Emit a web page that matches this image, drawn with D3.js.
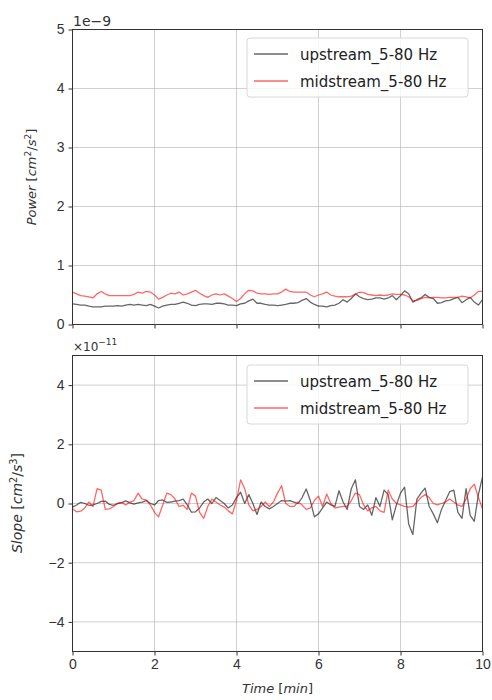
<!DOCTYPE html>
<html>
<head>
<meta charset="utf-8">
<script src="https://cdn.jsdelivr.net/npm/d3@7"></script>
<style>
  body { margin: 0; background: #fff; }
  svg { font-family: "DejaVu Sans", sans-serif; }
  .grid line { stroke: #b0b0b0; stroke-opacity: 0.6; }
  .axis path, .axis line { stroke: #333; }
  .axis text { fill: #333; font-size: 14px; }
</style>
</head>
<body>
<svg id="chart" width="492" height="700"></svg>
<script>
// sample spacing in minutes, samples start at t = 0
var dt = 0.1;

// Power, units of 1e-9 cm^2/s^2
var powerUp = [0.35,0.34,0.33,0.33,0.31,0.30,0.30,0.30,0.31,0.31,
  0.31,0.32,0.31,0.33,0.34,0.33,0.34,0.33,0.32,0.34,
  0.31,0.28,0.31,0.33,0.34,0.34,0.36,0.38,0.36,0.33,
  0.32,0.34,0.35,0.35,0.34,0.36,0.36,0.35,0.33,0.33,
  0.32,0.35,0.36,0.40,0.43,0.36,0.36,0.34,0.33,0.33,
  0.32,0.33,0.34,0.36,0.36,0.37,0.41,0.44,0.38,0.34,
  0.31,0.31,0.30,0.32,0.33,0.36,0.42,0.38,0.44,0.52,
  0.47,0.44,0.42,0.43,0.45,0.45,0.43,0.45,0.49,0.42,
  0.49,0.57,0.52,0.38,0.42,0.45,0.51,0.46,0.44,0.36,
  0.37,0.40,0.41,0.44,0.46,0.37,0.42,0.46,0.38,0.33,0.42];
var powerMid = [0.55,0.52,0.49,0.48,0.47,0.45,0.52,0.56,0.52,0.49,
  0.49,0.49,0.49,0.49,0.49,0.51,0.55,0.53,0.56,0.55,
  0.50,0.43,0.46,0.50,0.53,0.52,0.55,0.50,0.52,0.55,
  0.58,0.53,0.49,0.46,0.50,0.52,0.50,0.52,0.48,0.44,
  0.39,0.44,0.52,0.58,0.57,0.53,0.52,0.52,0.51,0.52,
  0.52,0.55,0.60,0.56,0.55,0.55,0.55,0.55,0.50,0.47,
  0.50,0.52,0.55,0.50,0.48,0.47,0.47,0.47,0.48,0.51,
  0.55,0.54,0.51,0.50,0.49,0.50,0.49,0.50,0.52,0.51,
  0.51,0.50,0.47,0.40,0.41,0.44,0.46,0.45,0.46,0.46,
  0.45,0.45,0.46,0.46,0.46,0.48,0.47,0.45,0.50,0.56,0.56];

// Slope, units of 1e-11 cm^2/s^3
var slopeUp = [-0.12,-0.05,0.04,0.00,-0.06,-0.05,0.00,0.07,0.08,-0.03,
  -0.06,0.00,0.03,0.09,0.02,-0.02,0.02,0.05,0.10,0.00,
  -0.05,0.10,0.12,0.04,0.05,0.08,0.10,0.15,-0.05,-0.29,
  -0.28,-0.15,0.05,0.15,0.00,0.20,0.10,0.00,-0.15,-0.05,
  0.20,0.38,0.00,0.30,0.00,-0.37,0.05,-0.10,-0.18,-0.10,
  0.00,0.10,0.08,0.10,0.05,0.00,0.20,0.49,0.10,-0.45,
  -0.35,-0.15,0.05,-0.05,-0.10,0.43,0.05,-0.20,0.50,0.80,
  -0.10,-0.20,-0.05,-0.40,0.20,-0.10,0.45,0.30,-0.55,-0.05,
  0.35,0.55,-0.70,-1.05,0.15,0.35,0.52,-0.10,-0.35,-0.65,
  -0.20,0.10,0.40,0.45,-0.30,-0.50,0.50,-0.40,-0.60,0.30,0.90];
var slopeMid = [-0.18,-0.28,-0.26,-0.15,0.05,-0.10,0.50,0.45,-0.20,-0.18,
  -0.10,0.00,0.03,-0.05,0.05,0.10,0.35,0.15,0.12,-0.05,
  -0.30,-0.45,-0.05,0.35,0.30,0.15,-0.10,-0.06,-0.20,0.35,
  0.25,-0.30,-0.50,-0.10,0.15,0.05,-0.05,-0.12,-0.25,-0.35,
  0.10,0.80,0.50,-0.05,-0.25,-0.20,-0.10,0.05,-0.10,0.05,
  0.35,0.60,0.00,-0.10,-0.10,0.05,-0.05,-0.20,-0.15,0.10,
  0.25,-0.10,0.32,0.00,-0.15,-0.12,-0.10,-0.10,0.10,0.35,
  0.30,-0.05,-0.25,-0.15,-0.10,-0.25,-0.30,0.45,0.15,0.00,
  -0.05,-0.10,-0.12,-0.10,0.05,0.20,0.30,0.20,0.00,-0.05,
  0.00,0.05,0.15,0.05,-0.05,-0.10,0.15,0.50,0.65,0.20,-0.18];

var xTicks = [0, 2, 4, 6, 8, 10];
var powerTicks = [0, 1, 2, 3, 4, 5];
var slopeTicks = [-4, -2, 0, 2, 4];
var seriesNames = ["upstream_5-80 Hz", "midstream_5-80 Hz"];
var seriesColors = ["rgba(0,0,0,0.6)", "rgba(255,0,0,0.6)"];

var svg = d3.select("#chart");
var left = 72.5, right = 482.5;

var x = d3.scaleLinear().domain([0, 10]).range([left, right]);

function panel(top, bottom, yDomain, yTicks, series) {
  var y = d3.scaleLinear().domain(yDomain).range([bottom, top]);
  var g = svg.append("g");

  // grid
  var grid = g.append("g").attr("class", "grid");
  grid.selectAll(".gx").data(xTicks.slice(1, -1)).enter().append("line")
    .attr("x1", function (d) { return x(d); }).attr("x2", function (d) { return x(d); })
    .attr("y1", top).attr("y2", bottom);
  grid.selectAll(".gy").data(yTicks).enter().append("line")
    .attr("x1", left).attr("x2", right)
    .attr("y1", function (d) { return y(d); }).attr("y2", function (d) { return y(d); });

  // lines
  var line = d3.line()
    .x(function (d, i) { return x(i * dt); })
    .y(function (d) { return y(d); });
  series.forEach(function (s, k) {
    g.append("path").datum(s)
      .attr("d", line)
      .attr("fill", "none")
      .attr("stroke", seriesColors[k])
      .attr("stroke-width", 1.3)
      .attr("stroke-linejoin", "round");
  });

  // frame
  g.append("rect")
    .attr("x", left).attr("y", top)
    .attr("width", right - left).attr("height", bottom - top)
    .attr("fill", "none").attr("stroke", "#333").attr("stroke-width", 1);

  // y axis
  g.append("g").attr("class", "axis")
    .attr("transform", "translate(" + left + ",0)")
    .call(d3.axisLeft(y).tickValues(yTicks).tickSize(4).tickPadding(4)
      .tickFormat(function (d) { return d < 0 ? "\u2212" + (-d) : d; }))
    .call(function (a) { a.select(".domain").remove(); });
  return y;
}

panel(29.5, 324.5, [0, 5], powerTicks, [powerUp, powerMid]);
panel(355.5, 651.5, [-5, 5], slopeTicks, [slopeUp, slopeMid]);

// x axes: top panel ticks only, bottom panel with labels
svg.append("g").attr("class", "axis")
  .attr("transform", "translate(0,324.5)")
  .call(d3.axisBottom(x).tickValues(xTicks).tickSize(4).tickFormat(""))
  .call(function (a) { a.select(".domain").remove(); });
svg.append("g").attr("class", "axis")
  .attr("transform", "translate(0,651.5)")
  .call(d3.axisBottom(x).tickValues(xTicks).tickSize(4).tickPadding(4))
  .call(function (a) { a.select(".domain").remove(); });

// offset texts
svg.append("text").attr("x", 73).attr("y", 26)
  .attr("font-size", 14).attr("fill", "#333").text("1e\u22129");
var off = svg.append("text").attr("x", 73).attr("y", 351)
  .attr("font-size", 12).attr("fill", "#333");
off.append("tspan").text("\u00d710");
off.append("tspan").attr("font-size", 9).attr("dy", -6).text("\u221211");

// y labels
function yLabel(cx, cy, word, exp, fs) {
  var t = svg.append("text")
    .attr("transform", "translate(" + cx + "," + cy + ") rotate(-90)")
    .attr("text-anchor", "middle").attr("font-size", fs).attr("fill", "#333");
  t.append("tspan").attr("font-style", "italic").text(word + " ");
  t.append("tspan").text("[");
  t.append("tspan").attr("font-style", "italic").text("cm");
  t.append("tspan").attr("font-size", fs * 0.7).attr("dy", -5).text("2");
  t.append("tspan").attr("dy", 5).text("/");
  t.append("tspan").attr("font-style", "italic").text("s");
  t.append("tspan").attr("font-size", fs * 0.7).attr("dy", -5).text(exp);
  t.append("tspan").attr("dy", 5).text("]");
}
yLabel(36, 177, "Power", "2", 13);
yLabel(22, 503, "Slope", "3", 14);

// x label
var xl = svg.append("text").attr("x", (left + right) / 2).attr("y", 693)
  .attr("text-anchor", "middle").attr("font-size", 13).attr("fill", "#333");
xl.append("tspan").attr("font-style", "italic").text("Time ");
xl.append("tspan").text("[");
xl.append("tspan").attr("font-style", "italic").text("min");
xl.append("tspan").text("]");

// legends
function legend(top) {
  var lg = svg.append("g").attr("transform", "translate(247," + top + ")");
  lg.append("rect").attr("width", 221).attr("height", 59).attr("rx", 3)
    .attr("fill", "rgba(255,255,255,0.8)").attr("stroke", "#d8d8d8");
  seriesNames.forEach(function (n, i) {
    var yy = 16 + i * 27;
    lg.append("line").attr("x1", 7).attr("x2", 41).attr("y1", yy).attr("y2", yy)
      .attr("stroke", seriesColors[i]).attr("stroke-width", 1.3);
    lg.append("text").attr("x", 53).attr("y", yy + 5.5)
      .attr("font-size", 15).attr("fill", "#222").text(n);
  });
}
legend(38);
legend(365);
</script>
</body>
</html>
